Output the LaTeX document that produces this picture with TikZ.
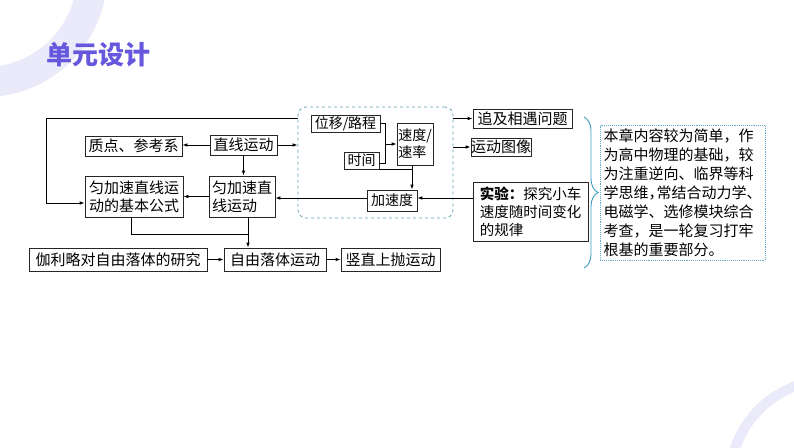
\documentclass[tikz,border=0pt]{standalone}
\usepackage{fontspec}
\newfontfamily\cjk{Noto Sans CJK SC}
\usetikzlibrary{arrows.meta,decorations.pathreplacing,calc}
\definecolor{ttl}{RGB}{102,88,220}
\definecolor{ring}{RGB}{234,234,250}
\definecolor{dashc}{RGB}{95,165,185}
\definecolor{bracec}{RGB}{60,160,190}
\definecolor{dotc}{RGB}{100,170,205}
\tikzset{
  box/.style={draw=black!85, line width=0.8pt, inner sep=0pt, anchor=center,
    font=\cjk\fontsize{15}{18}\selectfont},
  ibox/.style={box, font=\cjk\fontsize{14}{17}\selectfont},
  arr/.style={line width=0.8pt, -{Latex[length=5pt,width=3.6pt]}},
  ln/.style={line width=0.8pt},
}
\begin{document}
\begin{tikzpicture}[x=1pt,y=-1pt]
\useasboundingbox (0,0) rectangle (794,447);
\fill[white] (0,0) rectangle (794,447);
\begin{scope}
  \clip (0,0) rectangle (794,447);
  \fill[ring, even odd rule] (-15,-25) circle[radius=122] (-15,-25) circle[radius=92];
  \fill[ring, even odd rule] (830,480) circle[radius=105] (830,480) circle[radius=95];
\end{scope}
% title
\node[text=ttl, font=\cjk\bfseries\fontsize{26}{30}\selectfont, anchor=center] (title) at (98,55) {单元设计};

% dashed group
\node[draw=dashc, dashed, line width=0.8pt, rounded corners=8pt, minimum width=155, minimum height=111, inner sep=0pt] (db) at (375.5,162.5) {};

% boxes
\node[box, minimum width=97, minimum height=20] (zd) at (133.5,146) {质点、参考系};
\node[box, minimum width=67, minimum height=20] (zx) at (243.5,145) {直线运动};
\node[box, minimum width=66, minimum height=41, align=left] (yj) at (242,196.5) {匀加速直\\线运动};
\node[box, minimum width=98, minimum height=41, align=left] (gs) at (134,196.5) {匀加速直线运\\动的基本公式};
\node[box, minimum width=178, minimum height=23] (gl) at (118,259.5) {伽利略对自由落体的研究};
\node[box, minimum width=102, minimum height=23] (zy) at (275,259.5) {自由落体运动};
\node[box, minimum width=99, minimum height=23] (sz) at (390.5,259.5) {竖直上抛运动};

\node[ibox, minimum width=69, minimum height=17] (wy) at (345.5,123.5) {位移/路程};
\node[ibox, minimum width=35, minimum height=17] (sj) at (361.5,160.5) {时间};
\node[ibox, minimum width=36, minimum height=42, align=left] (sd) at (415,144) {速度/\\速率};
\node[ibox, minimum width=50, minimum height=21] (jsd) at (392,200.5) {加速度};

\node[box, minimum width=99, minimum height=19] (zj) at (522.5,118.5) {追及相遇问题};
\node[box, minimum width=56, minimum height=18] (yd) at (501,147) {运动图像};
\node[box, minimum width=115, minimum height=59, align=left, font=\cjk\fontsize{14.5}{18}\selectfont] (sy) at (530.5,211.5) {{\bfseries 实验：}探究小车\\速度随时间变化\\的规律};

\node[draw=dotc, densely dotted, line width=0.9pt, minimum width=165, minimum height=135, inner sep=0pt, align=left,
  font=\cjk\fontsize{15}{19}\selectfont] (tb) at (682.5,192.5)
  {本章内容较为简单，作\\为高中物理的基础，较\\为注重逆向、临界等科\\学思维\makebox[8pt][l]{，}常结合动力学、\\电磁学、选修模块综合\\考查，是一轮复习打牢\\根基的重要部分。};

% brace
\draw[bracec, line width=0.9pt, decorate, decoration={brace, amplitude=14pt}] (584,117) -- (584,268);

% connectors
\coordinate (lft) at (46,203);
\draw[arr] (db.west |- zj) -| (lft) -- (gs.west |- lft);
\draw[arr] (zx.west) -- (zd.east |- zx.west);
\draw[arr] (zx.east) -- (db.west |- zx.east);
\draw[arr] (zx.south) -- (zx.south |- yj.north);
\coordinate (jy) at ([yshift=2.5pt]jsd.east);
\coordinate (jw) at ([yshift=2.5pt]jsd.west);
\draw[arr] (jw) -- (yj.east |- jw);
\draw[arr] (yj.west) -- (gs.east |- yj.west);
\coordinate (j) at (248,234);
\draw[ln] (yj.south -| j) -- (j);
\draw[ln] ([xshift=-3pt]gs.south) |- (j);
\draw[arr] (j) -- (j |- zy.north);
\draw[arr] (gl.east) -- (zy.west);
\draw[arr] (zy.east) -- (sz.west);

\coordinate (k) at (385,163);
\draw[ln] (wy.east) -| (k) -- (sj.east |- k);
\draw[arr] (k |- sd.west) -- (sd.west);
\coordinate (ax) at ($(jsd.north)+(20,0)$);
\draw[ln] (sj.south east) -- (sj.south east -| ax);
\draw[arr] (sd.south -| ax) -- (ax);
\draw[arr] (sy.west |- jy) -- (jy);
\draw[arr] (db.east |- zj) -- (zj.west);
\draw[arr] (db.east |- yd) -- (yd.west);
\end{tikzpicture}
\end{document}
